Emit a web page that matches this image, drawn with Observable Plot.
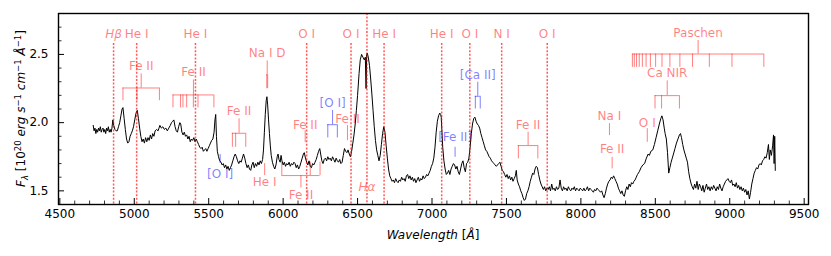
<!DOCTYPE html>
<html><head><meta charset="utf-8">
<script src="https://cdn.jsdelivr.net/npm/d3@7"></script>
<script src="https://cdn.jsdelivr.net/npm/@observablehq/plot@0.6"></script>
<style>body{margin:0;background:#fff;} #chart svg{display:block;}</style>
</head><body><div id="chart"></div>
<script>
// ---------- spectrum ----------
const wavelength = [4724,4730,4736,4742,4748,4754,4760,4766,4772,4778,4784,4790,4796,4802,4808,4814,4820,4826,4832,4838,4844,4850,4856,4862,4870,4878,4886,4894,4902,4910,4918,4924,4932,4940,4948,4956,4964,4972,4980,4987,4995,5003,5012,5020,5028,5036,5044,5052,5060,5068,5076,5084,5092,5100,5108,5116,5124,5132,5140,5150,5160,5172,5182,5192,5202,5212,5222,5232,5242,5250,5258,5266,5274,5282,5290,5298,5306,5312,5320,5328,5336,5344,5352,5360,5368,5376,5384,5392,5400,5408,5416,5424,5432,5440,5448,5456,5464,5472,5480,5488,5496,5504,5512,5520,5528,5536,5542,5547,5552,5558,5566,5574,5582,5590,5598,5606,5614,5622,5630,5638,5646,5654,5662,5670,5678,5686,5694,5702,5710,5718,5726,5734,5742,5750,5758,5766,5774,5782,5790,5798,5806,5814,5822,5830,5838,5846,5854,5862,5868,5874,5880,5886,5891,5896,5902,5908,5914,5920,5928,5936,5944,5952,5960,5966,5972,5980,5986,5992,6000,6008,6016,6024,6032,6040,6048,6056,6064,6072,6080,6088,6096,6104,6112,6120,6128,6136,6142,6150,6158,6166,6174,6182,6190,6198,6206,6214,6222,6230,6238,6246,6252,6260,6268,6276,6284,6292,6300,6308,6316,6324,6332,6340,6348,6356,6364,6372,6380,6388,6396,6404,6412,6420,6428,6436,6444,6452,6460,6468,6476,6484,6492,6500,6510,6518,6527,6536,6545,6552,6557,6561,6565,6572,6580,6588,6596,6604,6612,6620,6628,6636,6644,6652,6660,6668,6676,6684,6692,6700,6708,6716,6724,6732,6740,6748,6756,6764,6772,6780,6788,6796,6804,6812,6820,6828,6836,6844,6852,6860,6868,6876,6884,6892,6900,6908,6916,6924,6932,6940,6948,6956,6964,6972,6980,6988,6996,7004,7012,7020,7028,7036,7044,7052,7058,7062,7066,7072,7080,7088,7096,7104,7112,7120,7128,7136,7144,7152,7160,7168,7176,7184,7192,7200,7208,7216,7224,7232,7240,7248,7256,7264,7272,7280,7288,7296,7304,7312,7320,7328,7336,7344,7352,7360,7368,7376,7384,7392,7400,7408,7416,7424,7432,7440,7448,7456,7464,7472,7480,7488,7496,7504,7512,7520,7528,7536,7544,7552,7560,7566,7572,7580,7588,7596,7604,7612,7620,7628,7636,7644,7652,7660,7668,7676,7684,7692,7700,7708,7716,7724,7732,7740,7748,7756,7764,7772,7780,7788,7796,7804,7812,7820,7828,7836,7844,7852,7860,7868,7876,7884,7892,7900,7908,7916,7924,7932,7940,7948,7956,7964,7972,7980,7988,7996,8004,8012,8020,8028,8036,8044,8052,8060,8068,8076,8084,8092,8100,8108,8116,8124,8132,8140,8148,8156,8164,8172,8180,8188,8196,8204,8212,8220,8228,8236,8244,8252,8260,8268,8276,8284,8292,8300,8308,8316,8324,8332,8340,8348,8356,8364,8372,8380,8392,8404,8416,8428,8440,8452,8460,8470,8483,8494,8505,8516,8527,8537,8544,8552,8560,8566,8574,8582,8590,8598,8606,8614,8622,8632,8642,8652,8662,8669,8676,8684,8692,8700,8708,8716,8724,8732,8741,8748,8756,8764,8772,8780,8788,8796,8804,8812,8820,8828,8836,8844,8852,8860,8868,8876,8884,8892,8900,8908,8916,8924,8932,8940,8948,8956,8964,8972,8980,8988,8996,9004,9012,9020,9028,9036,9044,9052,9060,9068,9076,9084,9092,9100,9108,9116,9124,9132,9140,9148,9156,9164,9172,9180,9188,9196,9204,9212,9220,9228,9236,9244,9252,9260,9266,9272,9280,9288,9294,9298,9302,9306];
const flux = [1.98,1.94,1.96,1.92,1.95,1.93,1.96,1.94,1.97,1.93,1.95,1.96,1.93,1.95,1.92,1.96,1.94,1.97,1.93,1.95,1.93,1.96,2.02,1.98,1.95,1.94,1.94,1.97,2.00,2.05,2.10,2.11,2.03,1.95,1.88,1.85,1.86,1.90,1.92,1.94,1.97,2.02,2.07,2.09,2.03,1.96,1.90,1.86,1.88,1.85,1.89,1.86,1.89,1.87,1.91,1.88,1.92,1.90,1.94,1.95,1.94,1.98,1.96,1.97,1.95,1.96,1.94,1.96,1.98,2.00,2.01,2.02,1.97,1.94,1.93,1.97,2.00,1.99,1.93,1.91,1.93,1.90,1.91,1.88,1.90,1.86,1.88,1.87,1.89,1.86,1.88,1.86,1.84,1.82,1.81,1.82,1.79,1.80,1.81,1.79,1.81,1.83,1.85,1.87,1.88,1.93,2.02,2.06,1.90,1.79,1.75,1.72,1.71,1.69,1.70,1.67,1.69,1.66,1.68,1.65,1.67,1.69,1.72,1.75,1.77,1.75,1.72,1.70,1.72,1.71,1.74,1.77,1.74,1.70,1.67,1.69,1.66,1.65,1.69,1.71,1.67,1.70,1.68,1.71,1.69,1.72,1.70,1.73,1.80,1.93,2.06,2.16,2.19,2.13,2.02,1.92,1.83,1.76,1.71,1.68,1.66,1.69,1.75,1.77,1.73,1.71,1.76,1.72,1.69,1.71,1.68,1.70,1.69,1.71,1.68,1.70,1.69,1.71,1.70,1.67,1.69,1.66,1.68,1.71,1.74,1.77,1.78,1.74,1.71,1.69,1.72,1.68,1.67,1.70,1.69,1.71,1.73,1.76,1.79,1.81,1.77,1.72,1.70,1.73,1.74,1.72,1.75,1.73,1.74,1.72,1.75,1.73,1.71,1.74,1.72,1.71,1.73,1.70,1.71,1.76,1.81,1.79,1.78,1.80,1.77,1.75,1.79,1.85,1.91,1.99,2.09,2.20,2.36,2.46,2.50,2.48,2.46,2.48,2.25,2.50,2.51,2.48,2.42,2.32,2.21,2.09,1.97,1.87,1.80,1.76,1.72,1.76,1.84,1.92,1.97,1.93,1.83,1.74,1.66,1.61,1.59,1.57,1.58,1.56,1.59,1.57,1.56,1.58,1.57,1.60,1.58,1.59,1.57,1.61,1.62,1.59,1.61,1.58,1.60,1.57,1.59,1.56,1.58,1.60,1.57,1.59,1.58,1.61,1.59,1.60,1.62,1.61,1.63,1.65,1.68,1.70,1.74,1.82,1.93,2.01,2.05,2.07,2.06,2.04,1.95,1.82,1.72,1.66,1.62,1.63,1.65,1.62,1.66,1.68,1.70,1.69,1.66,1.68,1.64,1.62,1.66,1.70,1.72,1.67,1.64,1.70,1.71,1.74,1.82,1.92,1.99,2.03,2.04,2.01,1.99,1.98,1.96,1.92,1.89,1.86,1.83,1.80,1.79,1.77,1.75,1.74,1.72,1.71,1.70,1.69,1.68,1.69,1.70,1.71,1.68,1.65,1.64,1.62,1.60,1.62,1.59,1.61,1.58,1.60,1.57,1.59,1.61,1.65,1.58,1.55,1.53,1.50,1.48,1.45,1.43,1.44,1.48,1.50,1.53,1.57,1.60,1.63,1.62,1.66,1.68,1.67,1.62,1.58,1.55,1.53,1.51,1.53,1.50,1.52,1.51,1.53,1.50,1.55,1.51,1.52,1.50,1.53,1.51,1.52,1.58,1.52,1.50,1.53,1.51,1.52,1.50,1.53,1.51,1.50,1.52,1.51,1.53,1.50,1.52,1.51,1.50,1.52,1.51,1.50,1.52,1.50,1.51,1.53,1.50,1.52,1.51,1.50,1.49,1.51,1.50,1.52,1.51,1.50,1.49,1.50,1.47,1.45,1.48,1.52,1.55,1.57,1.58,1.60,1.59,1.61,1.59,1.57,1.55,1.52,1.50,1.48,1.50,1.47,1.46,1.50,1.53,1.51,1.55,1.53,1.56,1.55,1.57,1.58,1.60,1.62,1.64,1.67,1.69,1.70,1.74,1.77,1.76,1.79,1.80,1.84,1.89,1.94,1.99,2.03,2.05,2.02,1.96,1.92,1.88,1.78,1.63,1.67,1.71,1.74,1.77,1.81,1.85,1.88,1.91,1.92,1.89,1.84,1.80,1.77,1.74,1.71,1.64,1.59,1.55,1.53,1.51,1.55,1.52,1.57,1.51,1.55,1.53,1.50,1.54,1.49,1.52,1.55,1.51,1.53,1.50,1.53,1.51,1.54,1.52,1.50,1.53,1.51,1.55,1.52,1.50,1.53,1.55,1.57,1.58,1.59,1.57,1.56,1.58,1.54,1.55,1.53,1.56,1.52,1.54,1.51,1.53,1.50,1.52,1.49,1.51,1.47,1.50,1.44,1.49,1.55,1.59,1.63,1.65,1.67,1.66,1.69,1.70,1.69,1.72,1.73,1.75,1.74,1.78,1.84,1.73,1.80,1.76,1.83,1.91,1.70,1.90,1.65];

// ---------- axes ----------
const xMajor = [4500,5000,5500,6000,6500,7000,7500,8000,8500,9000,9500];
const xMinor = d3.range(4500, 9501, 100).filter(v => v % 500 !== 0);
const yMajor = [1.5, 2.0, 2.5];
const yMinor = [1.4,1.6,1.7,1.8,1.9,2.1,2.2,2.3,2.4,2.6,2.7,2.8];

// ---------- full-height line identifications ----------
const idWave = [4861, 5016, 5411, 6158, 6456, 6563, 6678, 7065, 7254, 7468, 7774];
const idName = ["Hβ", "He I", "He I", "O I", "O I", "Hα", "He I", "He I", "O I", "N I", "O I"];

// ---------- bracket identifications ----------
const brName = ["Fe II", "Fe II", "Fe II", "Na I D", "[O I]", "[Ca II]", "Fe II", "Ca NIR", "Paschen", "Fe II"];
const brWaves = [
  [4924, 5018, 5169],
  [5260, 5311, 5327, 5352, 5397, 5428, 5535],
  [5659, 5681, 5749],
  [5890, 5896],
  [6300, 6364],
  [7291, 7324],
  [7580, 7711],
  [8498, 8542, 8662],
  [9229, 9015, 8863, 8750, 8665, 8598, 8545, 8502, 8467, 8438, 8413, 8392, 8374, 8359, 8346],
  [5991, 6182, 6248]
];
const brKind = ["em", "em", "em", "em", "forbidden", "forbidden", "em", "em", "em", "em"];

// ---------- single-tick identifications ----------
const sgName = ["Fe II", "Fe II", "[Fe II]", "Na I", "Fe II", "O I", "He I", "[O I]"];
const sgWave = [6148, 6432, 7155, 8192, 8210, 8446, 5876, 5577];
const sgKind = ["em", "em", "forbidden", "em", "em", "em", "em", "forbidden"];

// ---------- layout (label levels, in flux units) ----------
const idLabelLevel = 2.651, idLineTop = 2.58;
const hAlphaLabelLevel = 1.524;
const brLabelLevel = [2.412, 2.368, 2.083, 2.507, 2.144, 2.351, 1.985, 2.361, 2.657, 1.466];
const brBarLevel   = [2.254, 2.203, 1.922, 2.351, 1.985, 2.193, 1.832, 2.198, 2.503, 1.612];
const brTickLevel  = [2.161, 2.108, 1.819, 2.249, 1.888, 2.100, 1.734, 2.100, 2.405, 1.710];
const sgLabelLevel = [1.985, 2.022, 1.892, 2.051, 1.802, 1.998, 1.563, 1.625];
const sgLine = [[1.941,1.853],[1.978,1.868],[1.819,1.746],[1.993,1.905],[1.746,1.661],[1.956,1.856],[1.612,1.700],[1.700,1.766]];

const W = 831, H = 256, mL = 58, mR = 23, mT = 13, mB = 52;
const frameH = H - mT - mB, frameW = W - mL - mR;
const FS = 12;
const colorOf = k => k === "forbidden" ? "#0000ff" : "#ff0000";

const spec = wavelength.map((w, i) => ({w, f: flux[i]}));
const ids = idWave.map((w, i) => ({w, name: idName[i], top: idName[i] === "Hα" ? 2.80 : idLineTop,
  ly: idName[i] === "Hα" ? hAlphaLabelLevel : idLabelLevel, italic: idName[i] === "Hβ" || idName[i] === "Hα"}));
const idsItalic = ids.filter(d => d.italic), idsUpright = ids.filter(d => !d.italic);

const brTicks = [], brBars = [], brStems = [], brLabels = [];
brWaves.forEach((ws, i) => {
  const lo = d3.min(ws), hi = d3.max(ws), mid = (lo + hi) / 2, c = colorOf(brKind[i]);
  const lab = brLabelLevel[i], bar = brBarLevel[i], tk = brTickLevel[i];
  const up = bar > lab;
  ws.forEach(w => brTicks.push({x: w, y1: bar, y2: tk, c}));
  brBars.push({x1: lo, x2: hi, y: bar, c});
  brStems.push({x: mid, y1: up ? lab + 0.055 : lab - 0.055, y2: bar, c});
  brLabels.push({x: mid, y: lab, text: brName[i], c});
});
const sgs = sgWave.map((w, i) => ({x: w, y: sgLabelLevel[i], y1: sgLine[i][0], y2: sgLine[i][1], text: sgName[i], c: colorOf(sgKind[i])}));

const plot = Plot.plot({
  width: W, height: H, marginLeft: mL, marginRight: mR, marginTop: mT, marginBottom: mB,
  style: {fontFamily: "DejaVu Sans", fontSize: FS + "px", background: "white", color: "black", overflow: "visible"},
  x: {domain: [4491, 9529]},
  y: {domain: [1.40, 2.80]},
  marks: [
    Plot.axisX({ticks: xMajor, tickSize: 0, tickPadding: 5, tickFormat: d => String(d), label: null, fontSize: FS}),
    Plot.axisY({ticks: yMajor, tickSize: 0, tickPadding: 10, tickFormat: d => d.toFixed(1), label: null, fontSize: FS}),
    Plot.ruleX(xMajor, {x: d => d, insetTop: frameH - 6, stroke: "black", strokeWidth: 1}),
    Plot.ruleX(xMinor, {x: d => d, insetTop: frameH - 3.5, stroke: "black", strokeWidth: 0.8}),
    Plot.ruleY(yMajor, {y: d => d, insetRight: frameW - 6, stroke: "black", strokeWidth: 1}),
    Plot.ruleY(yMinor, {y: d => d, insetRight: frameW - 3.5, stroke: "black", strokeWidth: 0.8}),
    // brackets
    Plot.ruleX(brTicks, {x: "x", y1: "y1", y2: "y2", stroke: "c", strokeOpacity: 0.5, strokeWidth: 1}),
    Plot.ruleY(brBars, {x1: "x1", x2: "x2", y: "y", stroke: "c", strokeOpacity: 0.5, strokeWidth: 1}),
    Plot.ruleX(brStems, {x: "x", y1: "y1", y2: "y2", stroke: "c", strokeOpacity: 0.5, strokeWidth: 1}),
    Plot.text(brLabels, {x: "x", y: "y", text: "text", fill: "c", fillOpacity: 0.5, fontSize: FS}),
    // singles
    Plot.ruleX(sgs, {x: "x", y1: "y1", y2: "y2", stroke: "c", strokeOpacity: 0.5, strokeWidth: 1}),
    Plot.text(sgs, {x: "x", y: "y", text: "text", fill: "c", fillOpacity: 0.5, fontSize: FS}),
    // spectrum
    Plot.line(spec, {x: "w", y: "f", stroke: "black", strokeWidth: 1}),
    // identification lines
    Plot.text(idsUpright, {x: "w", y: "ly", text: "name", fill: "#ff0000", fillOpacity: 0.5, fontSize: FS}),
    Plot.text(idsItalic, {x: "w", y: "ly", text: "name", fill: "#ff0000", fillOpacity: 0.5, fontSize: FS, fontStyle: "italic"}),
    Plot.ruleX(ids, {x: "w", y1: "top", y2: 1.40, stroke: "#ff0000", strokeOpacity: 0.65, strokeWidth: 1.5, strokeDasharray: "2,1.6"}),
    Plot.frame({stroke: "black", strokeWidth: 1.4})
  ]
});

// axis titles with sub/superscripts
const svg = d3.select(plot);
function rich(sel, parts) {
  let shift = 0;
  parts.forEach(p => {
    const target = p.s || 0;
    const ts = sel.append("tspan").text(p.t);
    if (target !== shift) { ts.attr("dy", target - shift); shift = target; }
    if (p.i) ts.attr("font-style", "italic");
    if (p.z) ts.attr("font-size", p.z);
  });
}
const xl = svg.append("text").attr("x", mL + frameW / 2).attr("y", 239)
  .attr("text-anchor", "middle").attr("font-size", FS).attr("font-family", "DejaVu Sans").attr("fill", "black");
rich(xl, [{t: "Wavelength", i: 1}, {t: " ["}, {t: "Å", i: 1}, {t: "]"}]);

const yl = svg.append("text").attr("transform", `translate(25,${mT + frameH / 2}) rotate(-90)`)
  .attr("text-anchor", "middle").attr("font-size", FS).attr("font-family", "DejaVu Sans").attr("fill", "black");
rich(yl, [
  {t: "F", i: 1}, {t: "λ", i: 1, s: 3, z: 8.5}, {t: " [10"}, {t: "20", s: -4.5, z: 8.5}, {t: " "},
  {t: "erg s", i: 1}, {t: "−1", s: -4.5, z: 8.5}, {t: " "}, {t: "cm", i: 1}, {t: "−1", s: -4.5, z: 8.5},
  {t: " "}, {t: "Å", i: 1}, {t: "−1", s: -4.5, z: 8.5}, {t: "]"}
]);

document.getElementById("chart").appendChild(plot);
</script>
</body></html>
